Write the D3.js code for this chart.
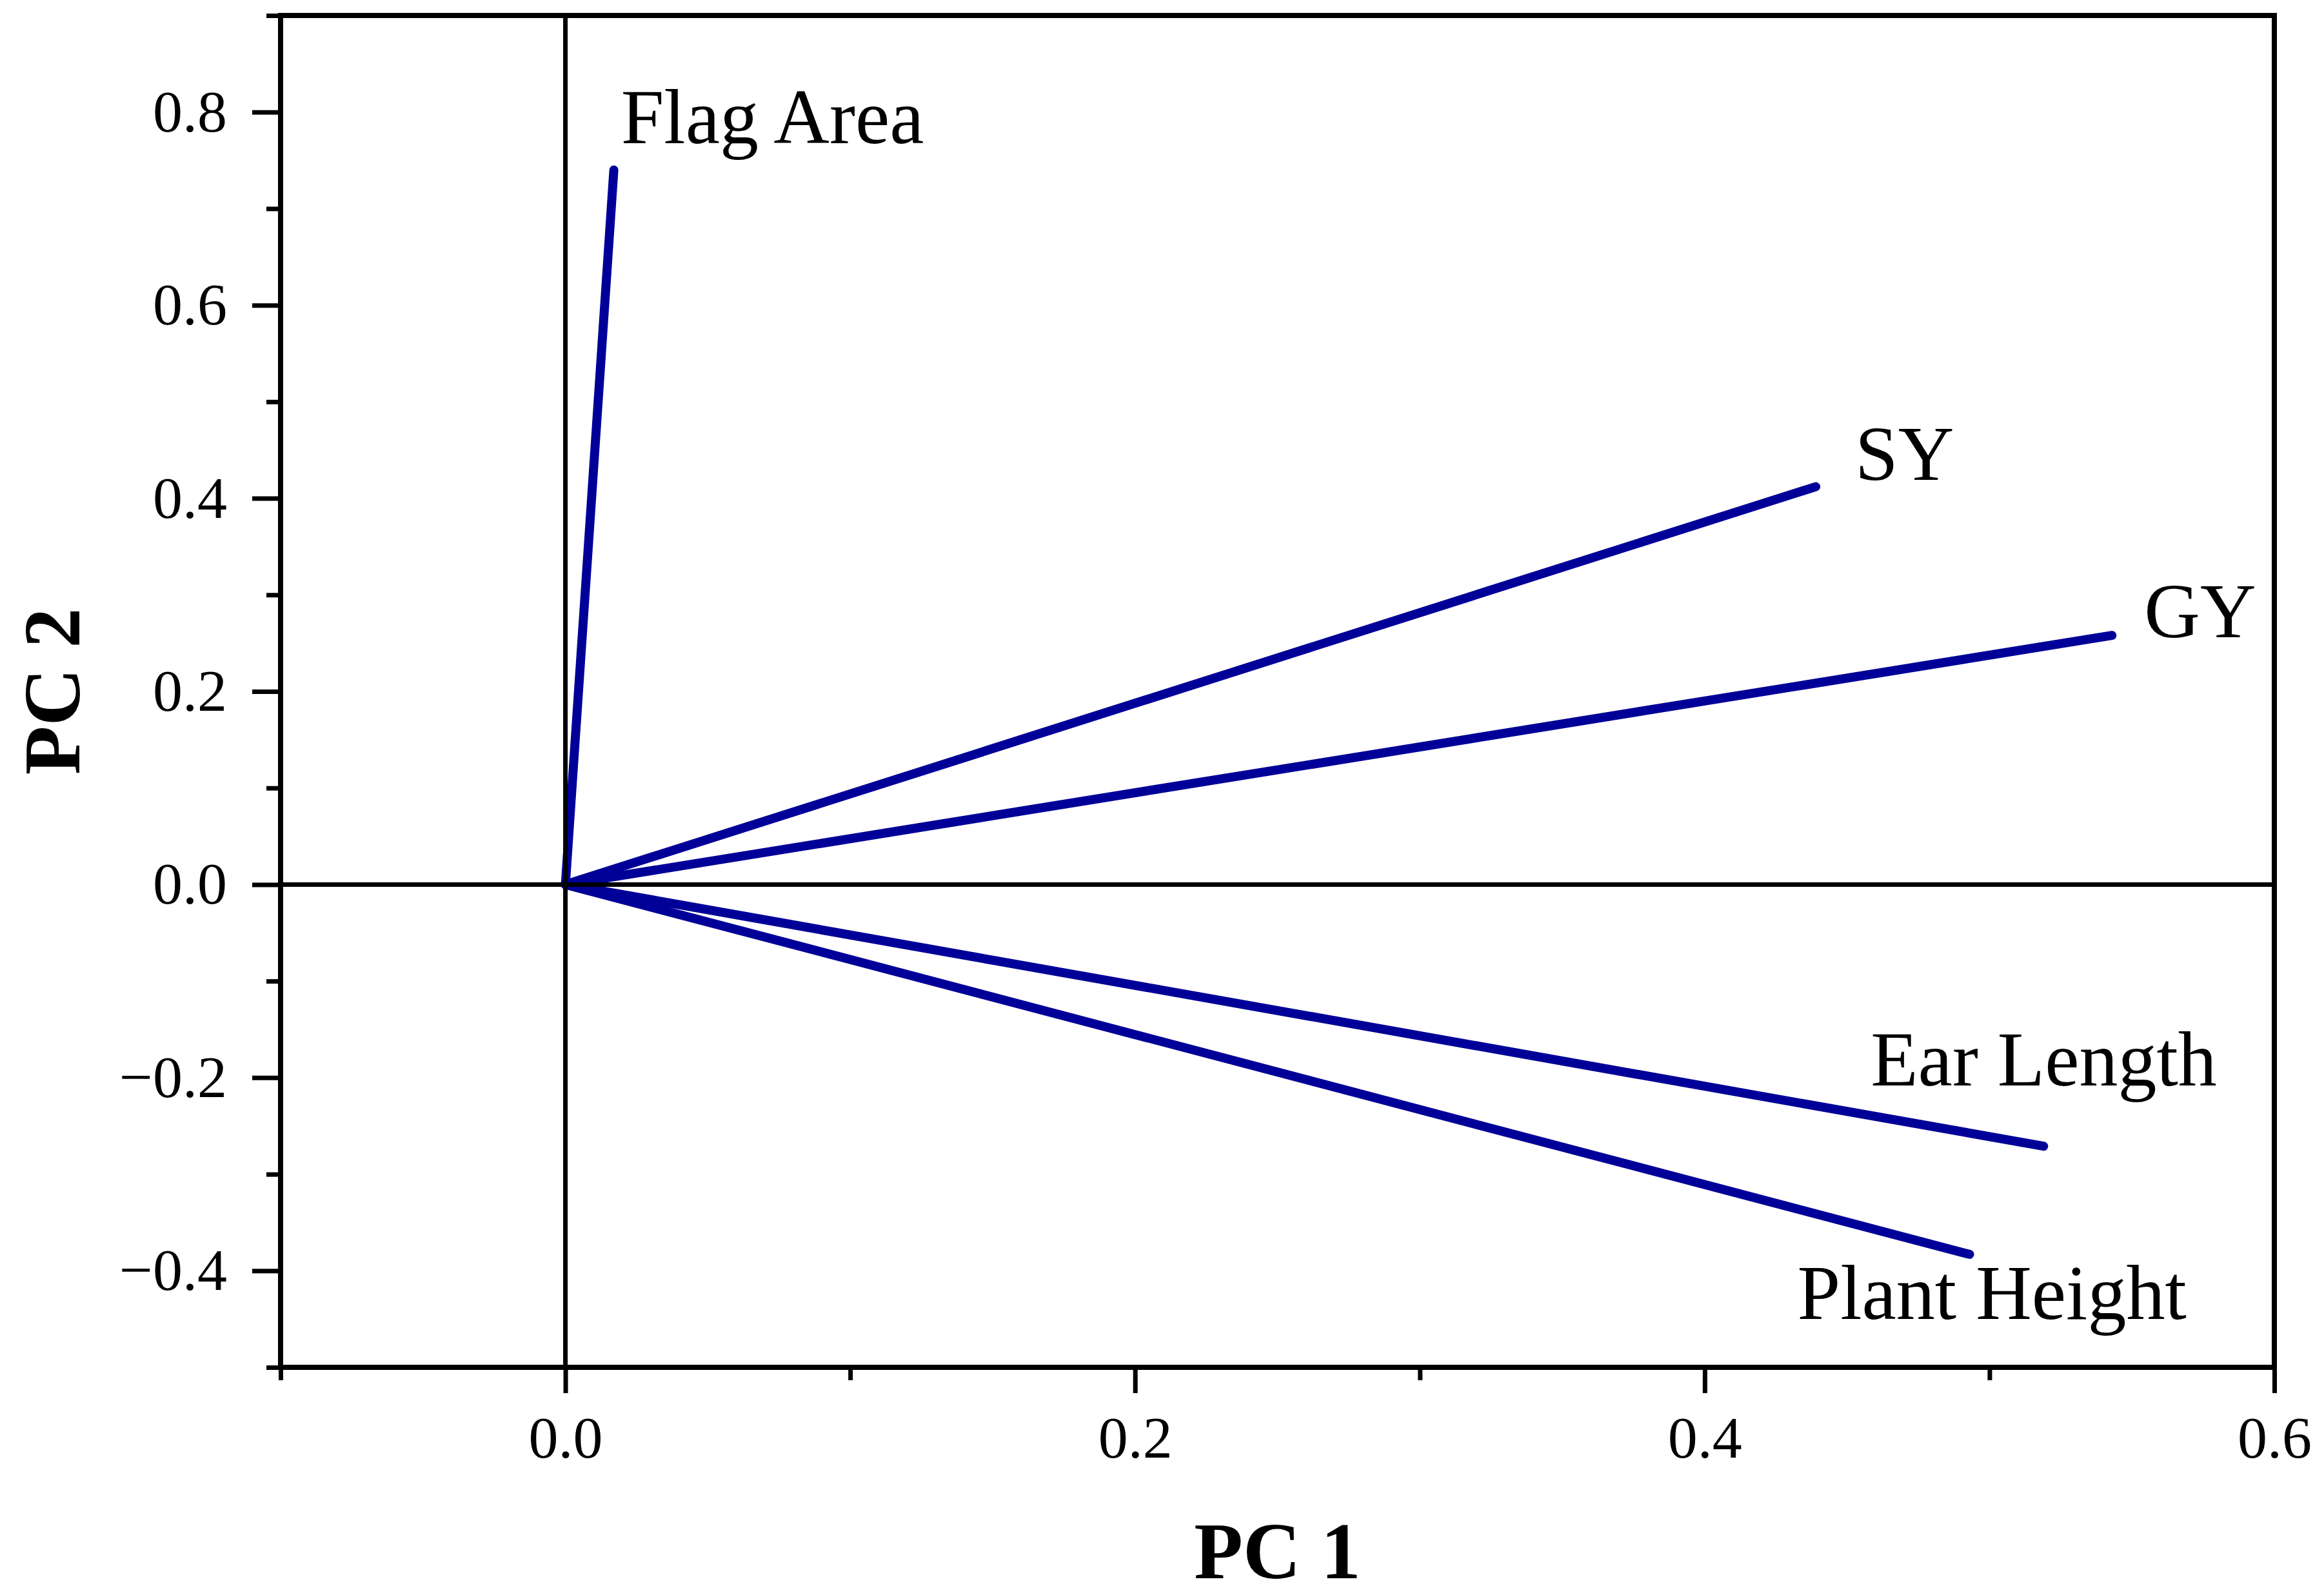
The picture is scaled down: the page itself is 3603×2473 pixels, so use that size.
<!DOCTYPE html>
<html>
<head>
<meta charset="utf-8">
<script src="https://cdn.jsdelivr.net/npm/d3@7"></script>
<style>
  html, body { margin: 0; padding: 0; background: #fff; }
  svg { display: block; }
</style>
</head>
<body>
<svg id="chart" width="3603" height="2473"></svg>
<script>
// ---- data ----
const variables = ["Flag Area", "SY", "GY", "Ear Length", "Plant Height"];
const pc1 = [0.017, 0.439, 0.543, 0.519, 0.493];
const pc2 = [0.740, 0.412, 0.258, -0.271, -0.383];

const xDomain = [-0.1, 0.6];
const yDomain = [-0.5, 0.9];
const xMajorTicks = [0.0, 0.2, 0.4, 0.6];
const xMinorTicks = [-0.1, 0.1, 0.3, 0.5];
const yMajorTicks = [-0.4, -0.2, 0.0, 0.2, 0.4, 0.6, 0.8];
const yMinorTicks = [-0.5, -0.3, -0.1, 0.1, 0.3, 0.5, 0.7, 0.9];
const xTitle = "PC 1";
const yTitle = "PC 2";

// ---- layout / style ----
const W = 3603, H = 2473;
const plot = { left: 435, right: 3526, top: 24, bottom: 2120 };
const labelOffset = {
  "Flag Area":    [11, -42],
  "SY":           [61, -11],
  "GY":           [50, 3],
  "Ear Length":   [-268, -94],
  "Plant Height": [-267, 100]
};
const font = "'Liberation Serif', 'Times New Roman', Times, serif";
const vecColor = "#000098";

const svg = d3.select("#chart");
svg.append("rect").attr("width", W).attr("height", H).attr("fill", "#fff");

const x = d3.scaleLinear().domain(xDomain).range([plot.left, plot.right]);
const y = d3.scaleLinear().domain(yDomain).range([plot.bottom, plot.top]);

const fmt = v => {
  const s = d3.format(".1f")(Math.abs(v) < 1e-9 ? 0 : v);
  return s.replace("-", "\u2212");
};

// vectors
const pts = variables.map((name, i) => ({ name, x: pc1[i], y: pc2[i] }));
svg.append("g").selectAll("line").data(pts).join("line")
  .attr("x1", x(0)).attr("y1", y(0))
  .attr("x2", d => x(d.x)).attr("y2", d => y(d.y))
  .attr("stroke", vecColor).attr("stroke-width", 14).attr("stroke-linecap", "round");

// zero lines (drawn above vectors)
svg.append("line").attr("x1", x(0)).attr("x2", x(0)).attr("y1", plot.top).attr("y2", plot.bottom)
  .attr("stroke", "#000").attr("stroke-width", 7);
svg.append("line").attr("x1", plot.left).attr("x2", plot.right).attr("y1", y(0)).attr("y2", y(0))
  .attr("stroke", "#000").attr("stroke-width", 7);

// labels
svg.append("g").selectAll("text").data(pts).join("text")
  .attr("x", d => x(d.x) + labelOffset[d.name][0])
  .attr("y", d => y(d.y) + labelOffset[d.name][1])
  .attr("font-family", font).attr("font-size", 120).attr("fill", "#000")
  .text(d => d.name);

// axes
function styleAxis(g) {
  g.select(".domain").remove();
  g.selectAll(".tick line").attr("stroke", "#000").attr("stroke-width", 7);
  g.selectAll(".tick text").attr("font-family", font).attr("font-size", 92).attr("fill", "#000");
}
svg.append("g").attr("transform", `translate(0,${plot.bottom})`)
  .call(d3.axisBottom(x).tickValues(xMajorTicks).tickSize(40).tickPadding(35).tickFormat(fmt))
  .call(styleAxis);
svg.append("g").attr("transform", `translate(0,${plot.bottom})`)
  .call(d3.axisBottom(x).tickValues(xMinorTicks).tickSize(20).tickFormat(""))
  .call(styleAxis);
svg.append("g").attr("transform", `translate(${plot.left},0)`)
  .call(d3.axisLeft(y).tickValues(yMajorTicks).tickSize(44).tickPadding(39).tickFormat(fmt))
  .call(styleAxis);
svg.append("g").attr("transform", `translate(${plot.left},0)`)
  .call(d3.axisLeft(y).tickValues(yMinorTicks).tickSize(22).tickFormat(""))
  .call(styleAxis);

// frame
svg.append("rect")
  .attr("x", plot.left).attr("y", plot.top)
  .attr("width", plot.right - plot.left).attr("height", plot.bottom - plot.top)
  .attr("fill", "none").attr("stroke", "#000").attr("stroke-width", 8);

// titles
svg.append("text")
  .attr("x", (plot.left + plot.right) / 2).attr("y", 2447)
  .attr("text-anchor", "middle")
  .attr("font-family", font).attr("font-size", 124).attr("font-weight", "bold")
  .text(xTitle);
svg.append("text")
  .attr("transform", `translate(123,${(plot.top + plot.bottom) / 2}) rotate(-90)`)
  .attr("text-anchor", "middle")
  .attr("font-family", font).attr("font-size", 124).attr("font-weight", "bold")
  .text(yTitle);
</script>
</body>
</html>
